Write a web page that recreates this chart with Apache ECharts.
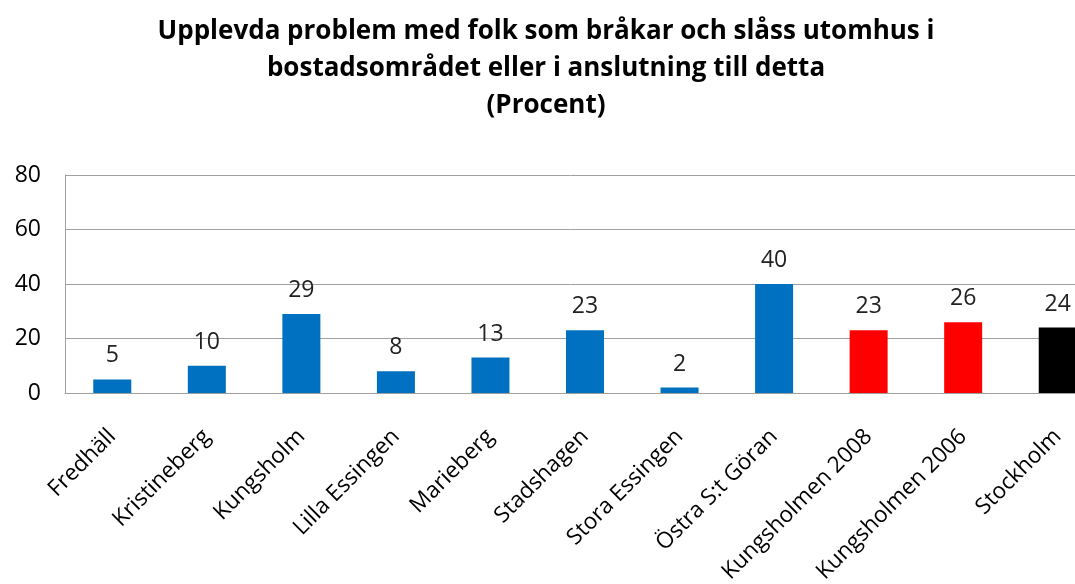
<!DOCTYPE html>
<html><head><meta charset="utf-8">
<script src="https://cdn.jsdelivr.net/npm/echarts@6/dist/echarts.min.js"></script>
<style>html,body{margin:0;padding:0;background:#fff}#c{width:1075px;height:584px}</style>
</head><body><div id="c"></div>
<script>
const titleLines = ["Upplevda problem med folk som bråkar och slåss utomhus i","bostadsområdet eller i anslutning till detta","(Procent)"];
const categories = ["Fredhäll","Kristineberg","Kungsholm","Lilla Essingen","Marieberg","Stadshagen","Stora Essingen","Östra S:t Göran","Kungsholmen 2008","Kungsholmen 2006","Stockholm"];
const values = [5,10,29,8,13,23,2,40,23,26,24];
const barColors = ["#0070C0","#0070C0","#0070C0","#0070C0","#0070C0","#0070C0","#0070C0","#0070C0","#FF0000","#FF0000","#000000"];
const yTicks = [0,20,40,60,80];

const font = "'Open Sans', sans-serif";
const chart = echarts.init(document.getElementById('c'), null, {renderer:'canvas'});
chart.setOption({
  animation:false,
  title:{
    text: titleLines.join("\n"),
    left: 541, textAlign:'center', top: 8,
    textStyle:{fontFamily:font, fontWeight:'bold', fontSize:26, lineHeight:37, color:'#000'}
  },
  grid:{left:65, top:175, width:1040, height:218, containLabel:false, outerBoundsMode:'none'},
  xAxis:{
    type:'category', data:categories,
    axisLine:{lineStyle:{color:'#a0a0a0'}},
    axisTick:{show:false},
    axisLabel:{rotate:45, interval:0, margin:40, fontFamily:font, fontSize:22.5, color:'#000'}
  },
  yAxis:{
    type:'value', min:yTicks[0], max:yTicks[yTicks.length-1], interval:20,
    axisLine:{show:true, lineStyle:{color:'#a0a0a0'}},
    axisTick:{show:false},
    splitLine:{lineStyle:{color:'#a0a0a0'}},
    axisLabel:{margin:24, fontFamily:font, fontSize:23, color:'#000'}
  },
  series:[{
    type:'bar', barWidth:38,
    data: values.map((v,i)=>({value:v, itemStyle:{color:barColors[i]}})),
    label:{show:true, position:'top', distance:12, fontFamily:font, fontSize:23, color:'#222'}
  }]
});
</script></body></html>
